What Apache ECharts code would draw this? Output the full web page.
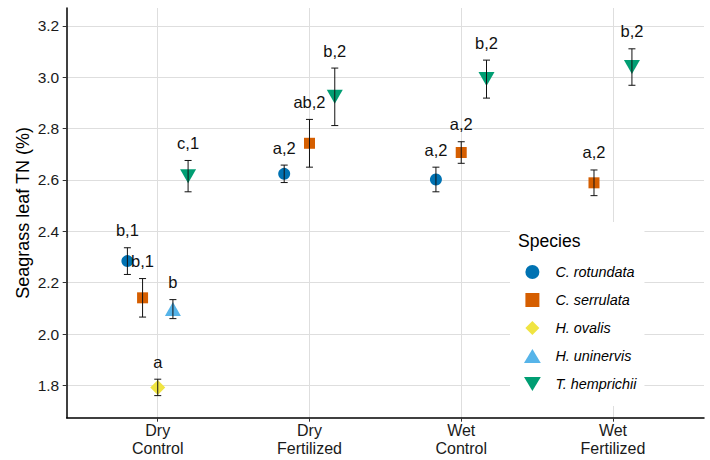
<!DOCTYPE html>
<html><head><meta charset="utf-8">
<script src="https://cdn.jsdelivr.net/npm/echarts@6/dist/echarts.min.js"></script>
<style>html,body{margin:0;padding:0;background:#fff}#c{width:710px;height:460px}</style>
</head><body><div id="c"></div>
<script>
// ---- data ----
const conditions = ['Dry\nControl', 'Dry\nFertilized', 'Wet\nControl', 'Wet\nFertilized'];
const species = ['C. rotundata', 'C. serrulata', 'H. ovalis', 'H. uninervis', 'T. hemprichii'];
const yTicks = [1.8, 2.0, 2.2, 2.4, 2.6, 2.8, 3.0, 3.2];
const xTicks = [1, 2, 3, 4];

const meanCrot = [2.284, 2.624, 2.602, null];
const seCrot   = [0.052, 0.034, 0.048, null];
const lblCrot  = ['b,1', 'a,2', 'a,2', null];

const meanCser = [2.141, 2.743, 2.707, 2.589];
const seCser   = [0.075, 0.093, 0.042, 0.050];
const lblCser  = ['b,1', 'ab,2', 'a,2', 'a,2'];

const meanHova = [1.792, null, null, null];
const seHova   = [0.032, null, null, null];
const lblHova  = ['a', null, null, null];

const meanHuni = [2.097, null, null, null];
const seHuni   = [0.037, null, null, null];
const lblHuni  = ['b', null, null, null];

const meanThem = [2.615, 2.924, 2.993, 3.040];
const seThem   = [0.061, 0.112, 0.074, 0.071];
const lblThem  = ['c,1', 'b,2', 'b,2', 'b,2'];

const means = [meanCrot, meanCser, meanHova, meanHuni, meanThem];
const ses = [seCrot, seCser, seHova, seHuni, seThem];
const lbls = [lblCrot, lblCser, lblHova, lblHuni, lblThem];

// ---- styles ----
const FONT = 'Liberation Sans, Arial, Helvetica, sans-serif';
const colors = ['#0072B2', '#D55E00', '#F0E442', '#56B4E9', '#009E73'];
const downTri = 'path://M0,0L12,0L6,10Z';
const symbols = ['circle', 'rect', 'diamond', 'triangle', downTri];
const sizes = [12, 11, [15, 15], [16, 14], [16, 14]];
const legendIcons = [
  'path://M6,0A6,6 0 1,1 6,12A6,6 0 1,1 6,0Z',
  'path://M0,0L11,0L11,11L0,11Z',
  'path://M7,0L14,7L7,14L0,7Z',
  'path://M6,0L12,10L0,10Z',
  downTri
];

// dodge positions (ggplot position_dodge width 0.5)
const dodgeW = 0.5;
function xPos(ci, si) {
  const present = [];
  for (let s = 0; s < species.length; s++) if (means[s][ci] != null) present.push(s);
  const n = present.length;
  const k = present.indexOf(si);
  return (ci + 1) + (k - (n - 1) / 2) * (dodgeW / n);
}

const series = [];
species.forEach((name, si) => {
  const pts = [];
  const errs = [];
  conditions.forEach((c, ci) => {
    if (means[si][ci] == null) return;
    const x = xPos(ci, si);
    pts.push([x, means[si][ci]]);
    errs.push({ value: [x, means[si][ci], ses[si][ci]], lab: lbls[si][ci] });
  });
  series.push({
    name: name, type: 'scatter', data: pts, symbol: symbols[si], symbolSize: sizes[si],
    itemStyle: { color: colors[si], opacity: 1 }, z: 2
  });
  series.push({
    name: 'err_' + si, type: 'custom', z: 3,
    data: errs.map(e => e.value),
    renderItem: function (params, api) {
      const x = api.value(0), m = api.value(1), s = api.value(2);
      const top = api.coord([x, m + s]);
      const bot = api.coord([x, m - s]);
      const cap = 3.5;
      const st = { stroke: '#111', lineWidth: 1 };
      return {
        type: 'group', children: [
          { type: 'line', shape: { x1: top[0], y1: top[1], x2: bot[0], y2: bot[1] }, style: st },
          { type: 'line', shape: { x1: top[0] - cap, y1: top[1], x2: top[0] + cap, y2: top[1] }, style: st },
          { type: 'line', shape: { x1: bot[0] - cap, y1: bot[1], x2: bot[0] + cap, y2: bot[1] }, style: st },
          { type: 'text', style: { text: errs[params.dataIndex].lab, x: top[0], y: top[1] - 17.5,
              textAlign: 'center', textVerticalAlign: 'middle', fill: '#111',
              font: '16.5px ' + FONT } }
        ]
      };
    }
  });
});

const chart = echarts.init(document.getElementById('c'), null, { renderer: 'svg' });
chart.setOption({
  animation: false,
  backgroundColor: '#fff',
  textStyle: { fontFamily: FONT },
  grid: { left: 66.7, right: 6, top: 8, bottom: 42.3, containLabel: false },
  xAxis: {
    type: 'value', min: 0.4, max: 4.6, minInterval: 1, maxInterval: 1, splitNumber: 4,
    axisLine: { show: true, onZero: false, lineStyle: { color: '#000', width: 1.5 } },
    axisTick: { show: true, length: 4, lineStyle: { color: '#333', width: 1 }, customValues: xTicks },
    axisLabel: {
      customValues: xTicks,
      formatter: v => conditions[Math.round(v) - 1] || '',
      color: '#1a1a1a', fontSize: 16, lineHeight: 18, margin: 4, fontFamily: FONT
    },
    splitLine: { show: true, lineStyle: { color: '#DEDEDE', width: 1 } }
  },
  yAxis: {
    type: 'value', min: 1.674, max: 3.27, minInterval: 0.2, maxInterval: 0.2, splitNumber: 8,
    name: 'Seagrass leaf TN (%)', nameLocation: 'middle', nameGap: 35, nameMoveOverlap: false,
    nameTextStyle: { fontSize: 18, color: '#000', fontFamily: FONT },
    axisLine: { show: true, onZero: false, lineStyle: { color: '#000', width: 1.5 } },
    axisTick: { show: true, length: 4, lineStyle: { color: '#333', width: 1 }, customValues: yTicks },
    axisLabel: {
      customValues: yTicks,
      formatter: v => v.toFixed(1),
      color: '#1a1a1a', fontSize: 15.5, margin: 7.5, fontFamily: FONT
    },
    splitLine: { show: true, lineStyle: { color: '#DEDEDE', width: 1 } }
  },
  legend: {
    orient: 'vertical', left: 510, top: 222,
    padding: [43, 8, 15, 14],
    backgroundColor: '#fff',
    itemWidth: 28, itemHeight: 14, itemGap: 14, symbolKeepAspect: true,
    data: species.map((s, i) => ({ name: s, icon: legendIcons[i] })),
    textStyle: { fontSize: 14.4, fontStyle: 'italic', color: '#000', lineHeight: 14, padding: [0, 0, 0, 4], fontFamily: FONT },
    selectedMode: false
  },
  graphic: [{
    type: 'text', z: 100, left: 518, top: 232,
    style: { text: 'Species', font: '17.6px ' + FONT, fill: '#000' }
  }],
  series: series
});
</script>
</body></html>
